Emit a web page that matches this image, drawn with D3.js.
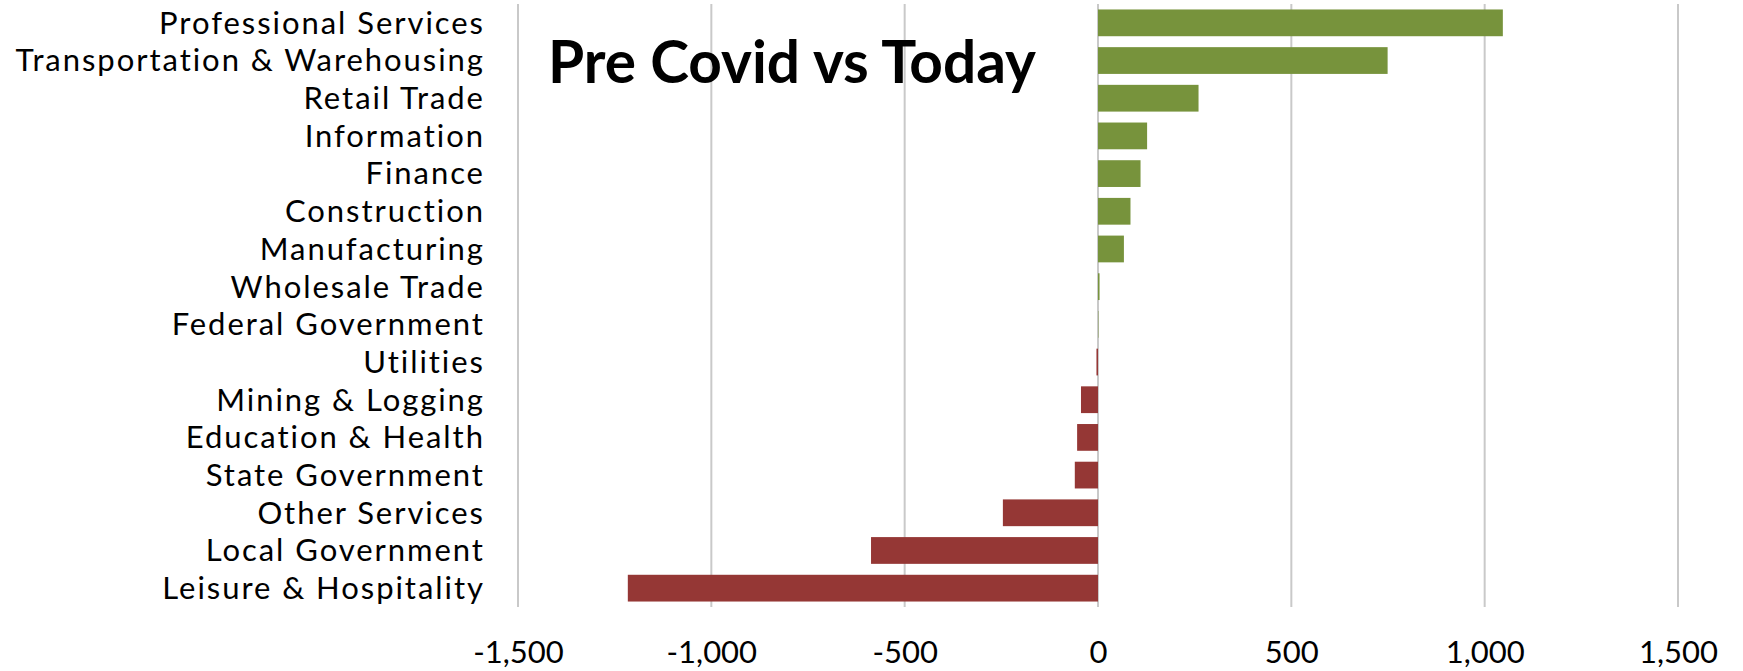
<!DOCTYPE html>
<html>
<head>
<meta charset="utf-8">
<script src="https://cdn.jsdelivr.net/npm/d3@7"></script>
<style>
  html, body { margin: 0; padding: 0; background: #ffffff; }
  svg { display: block; }
</style>
</head>
<body>
<svg id="chart" width="1743" height="671"></svg>
<script>
const categories = [
    'Professional Services', 'Transportation & Warehousing', 'Retail Trade', 'Information',
    'Finance', 'Construction', 'Manufacturing', 'Wholesale Trade', 'Federal Government',
    'Utilities', 'Mining & Logging', 'Education & Health', 'State Government',
    'Other Services', 'Local Government', 'Leisure & Hospitality'
];
const changes = [1047, 749, 260, 127, 110, 84, 67, 4, 1, -4, -44, -54, -60, -246, -587, -1216];
const xTicks = [-1500, -1000, -500, 0, 500, 1000, 1500];
const titleText = 'Pre Covid vs Today';

const font = 'Lato, "Open Sans", sans-serif';
const plot = { left: 518, right: 1678, top: 4, bottom: 607 };
const labelRight = 483;

const svg = d3.select('#chart');

const x = d3.scaleLinear().domain([-1500, 1500]).range([plot.left, plot.right]);
const y = d3.scaleBand().domain(categories)
    .range([plot.top, plot.bottom])
    .paddingInner(0.29)
    .paddingOuter(0.145);

// plain hyphen for negatives, like the original
const fmt = d3.formatLocale({ decimal: '.', thousands: ',', grouping: [3], currency: ['$', ''], minus: '-' }).format(',');

// fit a group of texts so the widest one spans the given width
function fitWidth(sel, target) {
    let maxW = 0;
    sel.each(function() { maxW = Math.max(maxW, this.getComputedTextLength()); });
    const fs = parseFloat(sel.attr('font-size'));
    sel.attr('font-size', fs * target / maxW);
}

// spread letters a bit so the widest text reaches the target width
function spreadTo(sel, target) {
    let maxW = 0, maxN = 1;
    sel.each(function() {
        const w = this.getComputedTextLength();
        if (w > maxW) { maxW = w; maxN = this.textContent.length; }
    });
    const ls = maxW < target ? (target - maxW) / (maxN - 1) : 0;
    sel.attr('letter-spacing', ls);
    return ls;
}

// gridlines
svg.append('g')
    .selectAll('line').data(xTicks).join('line')
        .attr('x1', d => x(d)).attr('x2', d => x(d))
        .attr('y1', plot.top).attr('y2', plot.bottom)
        .attr('stroke', '#c9c9c9')
        .attr('stroke-width', 2);

// bars
svg.append('g')
    .selectAll('rect').data(categories).join('rect')
        .attr('x', (d, i) => Math.min(x(0), x(changes[i])))
        .attr('y', d => y(d))
        .attr('width', (d, i) => Math.abs(x(changes[i]) - x(0)))
        .attr('height', y.bandwidth())
        .attr('fill', (d, i) => changes[i] >= 0 ? '#77933c' : '#953735');

// category labels
const labels = svg.append('g')
    .selectAll('text').data(categories).join('text')
        .attr('x', labelRight)
        .attr('y', d => y(d) + y.bandwidth() / 2)
        .attr('dy', '0.35em')
        .attr('text-anchor', 'end')
        .attr('font-family', font)
        .attr('font-size', 31)
        .attr('fill', '#000')
        .text(d => d);
const ls = spreadTo(labels, 468);
// letter-spacing also trails the last glyph, push back so text ends at labelRight
labels.attr('x', labelRight + ls);

// x axis labels
const axis = svg.append('g')
    .attr('transform', `translate(0, ${plot.bottom})`)
    .call(d3.axisBottom(x).tickValues(xTicks).tickFormat(fmt).tickSize(0).tickPadding(0));
axis.select('.domain').remove();
axis.selectAll('text')
    .attr('y', 56)
    .attr('dy', 0)
    .attr('font-family', font)
    .attr('font-size', 31)
    .attr('fill', '#000');

// title
const title = svg.append('text')
    .attr('x', 548)
    .attr('y', 83)
    .attr('font-family', font)
    .attr('font-weight', 'bold')
    .attr('font-size', 56)
    .attr('fill', '#000')
    .text(titleText);
fitWidth(title, 488);
</script>
</body>
</html>
